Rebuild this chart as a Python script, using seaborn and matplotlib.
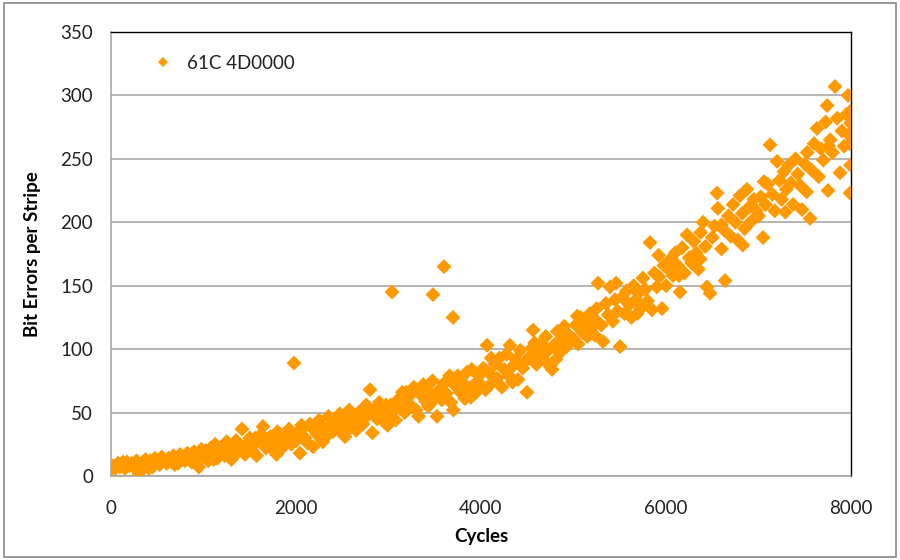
import matplotlib
matplotlib.use("Agg")
import matplotlib.pyplot as plt
import seaborn as sns
import pandas as pd
from matplotlib.patches import Rectangle

# ---- data ----
cycles_a = [0,22,48,75,98,126,150,173,201,224,252,276,300,327,349,374,401,425,448,476,
            502,526,549,577,600,623,651,674,702,725,748,776,799,826,850,873,901,924,950,977]
errors_a = [5,8,6,10,7,9,6,11,8,10,7,12,2,5,11,13,9,12,7,14,
            11,9,15,12,10,14,11,16,13,10,17,14,12,18,15,11,19,16,7,21]

cycles_b = [1002,1024,1051,1075,1098,1126,1149,1176,1200,1227,1250,1274,1301,1325,1352,1375,1398,1416,1449,1476,
            1500,1525,1548,1574,1600,1624,1643,1676,1701,1724,1750,1777,1800,1826,1849,1874,1902,1925,1951,1976]
errors_b = [15,20,12,22,18,25,14,19,23,16,27,21,13,24,28,19,22,37,17,26,
            30,20,25,16,28,33,39,22,27,31,24,19,35,28,22,33,27,37,25,31]

cycles_c = [2003,2025,2043,2076,2099,2124,2151,2184,2200,2226,2249,2275,2302,2324,2351,2375,2401,2426,2450,2474,
            2500,2527,2551,2575,2599,2625,2650,2676,2700,2724,2751,2776,2800,2826,2849,2876,2900,2926,2950,2974]
errors_c = [28,35,18,38,30,26,41,23,36,33,44,29,38,31,47,40,35,43,37,49,
            41,34,46,52,39,44,36,50,47,41,55,48,68,34,52,45,58,49,43,56]

cycles_d = [3001,3025,3050,3076,3100,3124,3150,3175,3201,3226,3250,3274,3300,3325,3350,3376,3400,3425,3451,3476,
            3500,3524,3551,3576,3600,3626,3650,3675,3701,3724,3750,3775,3801,3826,3850,3875,3900,3924,3950,3976]
errors_d = [48,56,51,44,60,53,66,50,58,63,55,70,52,47,64,72,59,67,57,75,
            62,47,68,60,73,65,76,58,52,71,79,66,74,61,82,69,84,72,66,79]

cycles_e = [4001,4025,4050,4065,4100,4126,4150,4175,4200,4226,4250,4275,4300,4313,4350,4375,4400,4425,4451,4475,
            4497,4526,4550,4562,4600,4625,4651,4675,4700,4726,4750,4768,4800,4825,4850,4876,4900,4925,4951,4975]
errors_e = [72,85,68,103,80,74,88,77,93,70,84,96,79,103,87,92,76,99,85,90,
            66,94,101,115,88,97,105,92,110,99,86,84,104,114,97,108,118,102,111,107]

cycles_f = [5001,5025,5050,5075,5100,5125,5150,5176,5200,5226,5250,5265,5300,5319,5350,5375,5395,5425,5450,5476,
            5503,5525,5550,5575,5600,5625,5650,5676,5700,5725,5750,5776,5800,5827,5849,5875,5900,5925,5957,5976]
errors_f = [108,119,104,125,113,121,110,128,117,124,132,152,119,106,136,127,149,122,139,130,
            102,141,128,146,135,125,150,139,144,132,156,147,138,184,131,160,149,157,132,166]

cycles_g = [6001,6025,6050,6075,6100,6125,6151,6175,6200,6227,6250,6275,6300,6325,6350,6375,6400,6425,6443,6476,
            6500,6525,6551,6560,6600,6625,6638,6675,6700,6725,6750,6775,6800,6825,6850,6875,6900,6925,6950,6976]
errors_g = [150,163,171,158,176,166,145,180,160,190,172,168,185,176,163,192,200,181,149,144,
            188,197,223,211,179,194,154,205,189,214,200,186,221,207,195,226,212,201,218,209]

cycles_h = [7001,7025,7049,7075,7100,7124,7150,7175,7200,7225,7250,7275,7300,7325,7350,7375,7400,7425,7450,7470,
            7500,7525,7557,7575,7600,7632,7650,7675,7700,7725,7741,7751,7775,7800,7827,7850,7881,7900,7925,7950,
            7968,7975,7985,7989,7995,7995,8000]
errors_h = [205,220,188,214,230,261,222,209,248,233,218,240,226,245,231,214,250,238,229,210,
            246,255,203,241,262,274,236,258,249,279,292,225,265,255,307,282,239,272,260,285,
            300,269,262,223,245,278,288]

# extra readings that fill out the band
cycles_fill = [130,410,690,880,1110,1330,1560,1790,2060,2290,2530,2760,2990,3190,3430,3660,3890,
               4110,4340,4580,4810,5040,5230,5460,5690,5920,6140,6370,6600,6830,7060,7290,7520,7760]
errors_fill = [11,6,9,18,13,26,30,17,40,27,31,56,40,66,55,79,62,
               93,74,105,92,126,111,152,128,174,158,171,198,182,232,208,224,260]

cycles_outliers = [1978,3038,3481,3600,3697]
errors_outliers = [89,145,143,165,125]

series_name = "61C 4D0000"
x_ticks = [0, 2000, 4000, 6000, 8000]
y_ticks = [0, 50, 100, 150, 200, 250, 300, 350]
x_label = "Cycles"
y_label = "Bit Errors per Stripe"

cycles = (cycles_a + cycles_b + cycles_c + cycles_d + cycles_e + cycles_f +
          cycles_g + cycles_h + cycles_fill + cycles_outliers)
errors = (errors_a + errors_b + errors_c + errors_d + errors_e + errors_f +
          errors_g + errors_h + errors_fill + errors_outliers)
df = pd.DataFrame({"Cycles": cycles, "Errors": errors, "Series": series_name})

# ---- style ----
sns.set_theme(style="white")
plt.rcParams["font.family"] = ["Lato", "DejaVu Sans"]

orange = "#FF9900"
grid_gray = "#A0A0A0"
text_col = "#222222"

fig = plt.figure(figsize=(9, 5.6), dpi=100)
ax = fig.add_axes([0.1233, 0.15, 0.8223, 0.7929])

sns.scatterplot(data=df, x="Cycles", y="Errors", hue="Series", palette=[orange],
                marker="D", s=58, edgecolor="none", linewidth=0, ax=ax, zorder=3)

ax.set_xlim(0, 8000)
ax.set_ylim(0, 350)
ax.set_xticks(x_ticks)
ax.set_yticks(y_ticks)
ax.set_xticklabels([str(v) for v in x_ticks])
ax.set_yticklabels([str(v) for v in y_ticks])
ax.tick_params(axis="both", labelsize=13.5, colors=text_col, length=5, width=1,
               direction="out", pad=6)
ax.tick_params(axis="x", color=grid_gray, pad=12)
ax.tick_params(axis="y", color=grid_gray, pad=8)
ax.yaxis.grid(True, color=grid_gray, linewidth=1.1)
ax.set_axisbelow(True)

for side in ("left", "bottom"):
    ax.spines[side].set_color(grid_gray)
    ax.spines[side].set_linewidth(1.1)
for side in ("top", "right"):
    ax.spines[side].set_color("black")
    ax.spines[side].set_linewidth(1.0)

ax.set_xlabel(x_label, fontsize=13.5, fontweight="bold", color="black", labelpad=8)
ax.set_ylabel(y_label, fontsize=13.5, fontweight="bold", color="black", labelpad=14)

leg = ax.legend(loc="upper left", bbox_to_anchor=(0.035, 0.965), frameon=False,
                fontsize=13.5, handletextpad=0.3, markerscale=0.65, borderaxespad=0)
for t in leg.get_texts():
    t.set_color(text_col)

fig.patches.append(Rectangle((0.004, 0.006), 0.992, 0.988, transform=fig.transFigure,
                             fill=False, edgecolor="#888888", linewidth=1.2))

fig.savefig("out.png", dpi=100)
